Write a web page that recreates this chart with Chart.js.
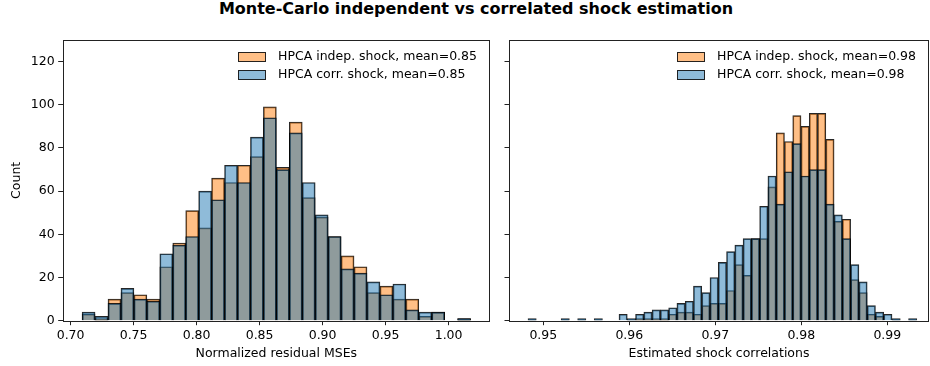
<!DOCTYPE html>
<html>
<head>
<meta charset="UTF-8">
<title>Monte-Carlo independent vs correlated shock estimation</title>
<script src="https://cdn.jsdelivr.net/npm/chart.js@4.4.1/dist/chart.umd.min.js"></script>
<style>
  body { margin: 0; background: #fff; width: 930px; height: 366px; position: relative; overflow: hidden; }
  #title { position: absolute; top: 1px; left: 176px; width: 600px; text-align: center;
           font: bold 16px/16px "DejaVu Sans", sans-serif; color: #000; white-space: nowrap; }
  canvas { position: absolute; top: 0; }
</style>
<script>
// counts, one value per bin
const leftTicksX = [0.70, 0.75, 0.80, 0.85, 0.90, 0.95, 1.00];
const rightTicksX = [0.95, 0.96, 0.97, 0.98, 0.99];
const countTicks = [0, 20, 40, 60, 80, 100, 120];

const leftBinStart = 0.70914, leftBinWidth = 0.010277;
const leftIndep = [3, 1, 10, 13, 12, 10, 25, 36, 51, 43, 66, 64, 72, 76, 99, 71, 92, 57, 48, 39, 30, 25, 13, 16, 10, 10, 2, 4, 0, 1];
const leftCorr  = [4, 2, 8, 15, 10, 9, 31, 35, 39, 60, 56, 72, 64, 85, 94, 70, 87, 64, 49, 39, 24, 22, 18, 12, 17, 5, 4, 4, 0, 1];

const rightBinStart = 0.94822, rightBinWidth = 0.000962;
const rightIndep = [0, 0, 0, 0, 0, 0, 0, 0, 0, 0, 0, 0, 0, 1, 1, 1, 1, 3, 4, 4, 3, 7, 8, 8, 14, 26, 21, 38, 38, 62,
                    87, 83, 95, 90, 96, 96, 84, 46, 47, 19, 13, 3, 2, 0, 0, 0, 0];
const rightCorr  = [1, 0, 0, 0, 1, 0, 1, 0, 1, 0, 0, 3, 1, 3, 4, 5, 5, 6, 8, 9, 16, 13, 20, 27, 32, 35, 38, 38, 53, 67,
                    54, 69, 82, 67, 70, 70, 54, 49, 38, 26, 18, 7, 4, 3, 1, 0, 1];

const ORANGE = 'rgba(255,127,14,0.5)';
const BLUE = 'rgba(31,119,180,0.5)';
const EDGE = 'rgba(0,0,0,0.85)';
const FONT = { family: '"DejaVu Sans", sans-serif', size: 12.5 };

function toBins(start, width, counts) {
  return counts.map((c, i) => ({ x: start + width * (i + 0.5), y: c }));
}

// all four spines, like matplotlib
const spines = {
  id: 'spines',
  afterDraw(chart) {
    const a = chart.chartArea, ctx = chart.ctx;
    ctx.save();
    ctx.strokeStyle = '#222';
    ctx.lineWidth = 1;
    const l = Math.round(a.left) + 0.5, r = Math.round(a.right) - 0.5;
    const t = Math.round(a.top) + 0.5, b = Math.round(a.bottom) + 0.5;
    ctx.strokeRect(l, t, r - l, b - t);
    ctx.restore();
  }
};

// legend inside the top right corner
const cornerLegend = {
  id: 'cornerLegend',
  afterDraw(chart) {
    const a = chart.chartArea, ctx = chart.ctx;
    const sets = chart.data.datasets;
    ctx.save();
    ctx.font = '12.5px "DejaVu Sans", sans-serif';
    const w = Math.max(...sets.map(d => ctx.measureText(d.label).width));
    const tx = a.right - 13 - w;
    sets.forEach((d, i) => {
      const cy = a.top + 16.7 + i * 18;
      const px = Math.round(tx - 40) + 0.5, py = Math.round(cy - 4.4) + 0.5;
      ctx.fillStyle = d.backgroundColor;
      ctx.fillRect(px, py, 27, 9);
      ctx.strokeStyle = EDGE;
      ctx.lineWidth = 1;
      ctx.strokeRect(px, py, 27, 9);
      ctx.fillStyle = '#000';
      ctx.textBaseline = 'middle';
      ctx.fillText(d.label, tx, cy);
    });
    ctx.restore();
  }
};

function makeHist(id, o) {
  new Chart(document.getElementById(id), {
    type: 'bar',
    data: {
      datasets: [
        { label: o.indepLabel, data: toBins(o.start, o.width, o.indep), backgroundColor: ORANGE,
          borderColor: EDGE, borderWidth: 1, grouped: false, order: 1,
          barPercentage: 1, categoryPercentage: 1 },
        { label: o.corrLabel, data: toBins(o.start, o.width, o.corr), backgroundColor: BLUE,
          borderColor: EDGE, borderWidth: 1, grouped: false, order: 0,
          barPercentage: 1, categoryPercentage: 1 }
      ]
    },
    options: {
      responsive: false,
      animation: false,
      layout: { padding: { top: 40, right: o.padRight, left: 0, bottom: 0 } },
      plugins: { legend: { display: false }, tooltip: { enabled: false } },
      scales: {
        x: {
          type: 'linear', offset: false, min: o.xmin, max: o.xmax,
          afterBuildTicks: s => { s.ticks = o.xticks.map(v => ({ value: v })); },
          afterFit: s => { s.height = 45.3; },
          border: { display: false },
          grid: { drawOnChartArea: false, drawTicks: true, tickLength: 4.5, color: '#222', offset: false },
          ticks: { color: '#000', font: FONT, padding: 3.5, maxRotation: 0, autoSkip: false,
                   callback: v => v.toFixed(2) },
          title: { display: true, text: o.xTitle, color: '#000', font: FONT, padding: { top: 0, bottom: 5 } }
        },
        y: {
          min: 0, max: 130,
          afterBuildTicks: s => { s.ticks = countTicks.map(v => ({ value: v })); },
          afterFit: s => { s.width = o.yWidth; },
          border: { display: false },
          grid: { drawOnChartArea: false, drawTicks: true, tickLength: 4.5, color: '#222' },
          ticks: { color: '#000', font: FONT, padding: 3.5, autoSkip: false,
                   callback: v => o.yLabels ? String(v) : '' },
          title: { display: !!o.yTitle, text: o.yTitle || '', color: '#000', font: FONT,
                   padding: { top: 9, bottom: 0 } }
        }
      }
    },
    plugins: [spines, cornerLegend]
  });
}

window.onload = function () {
  makeHist('left', {
    indep: leftIndep, corr: leftCorr, start: leftBinStart, width: leftBinWidth,
    indepLabel: 'HPCA indep. shock, mean=0.85', corrLabel: 'HPCA corr. shock, mean=0.85',
    xmin: 0.69373, xmax: 1.03286, xticks: leftTicksX, xTitle: 'Normalized residual MSEs',
    yWidth: 62.7, yLabels: true, yTitle: 'Count', padRight: 10
  });
  makeHist('right', {
    indep: rightIndep, corr: rightCorr, start: rightBinStart, width: rightBinWidth,
    indepLabel: 'HPCA indep. shock, mean=0.98', corrLabel: 'HPCA corr. shock, mean=0.98',
    xmin: 0.94601, xmax: 0.99485, xticks: rightTicksX, xTitle: 'Estimated shock correlations',
    yWidth: 29, yLabels: false, yTitle: null, padRight: 1
  });
};
</script>
</head>
<body>
  <div id="title">Monte-Carlo independent vs correlated shock estimation</div>
  <canvas id="left" width="500" height="366" style="left:0px"></canvas>
  <canvas id="right" width="450" height="366" style="left:480px"></canvas>
</body>
</html>
